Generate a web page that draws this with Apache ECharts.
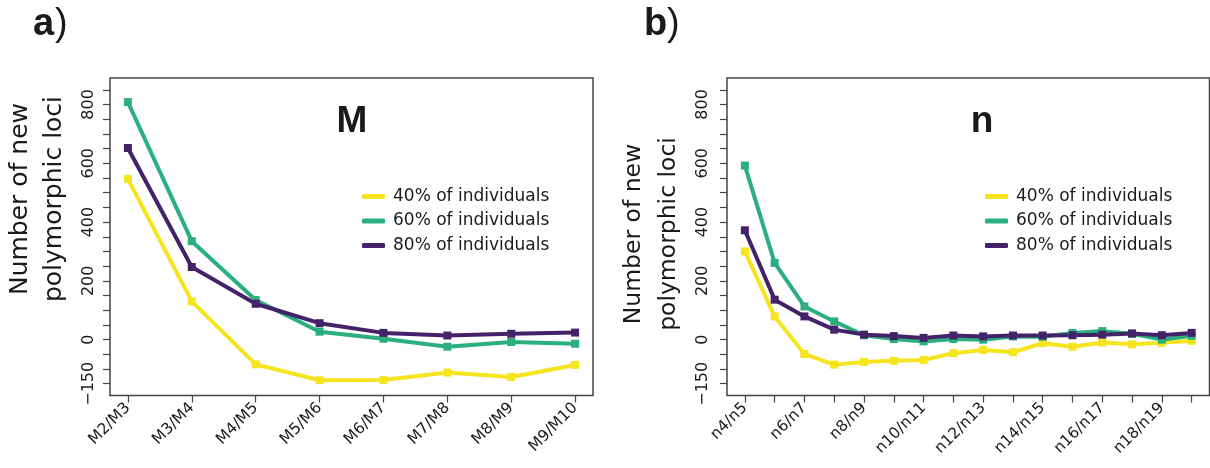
<!DOCTYPE html>
<html>
<head>
<meta charset="utf-8">
<script src="https://cdn.jsdelivr.net/npm/echarts@6/dist/echarts.min.js"></script>
<style>
html,body{margin:0;padding:0;background:#fff;}
#chart{width:1210px;height:468px;}
</style>
</head>
<body>
<div id="chart"></div>
<script>
// ---- data ----
const seriesNames = ['40% of individuals', '60% of individuals', '80% of individuals'];
const catsA = ['M2/M3', 'M3/M4', 'M4/M5', 'M5/M6', 'M6/M7', 'M7/M8', 'M8/M9', 'M9/M10'];
const yellowA = [547, 130, -84, -138, -137, -112, -127, -86];
const greenA  = [808, 335, 135, 27, 3, -24, -8, -14];
const purpleA = [652, 247, 122, 56, 23, 14, 20, 24];

const catsB = ['n4/n5', 'n5/n6', 'n6/n7', 'n7/n8', 'n8/n9', 'n9/n10', 'n10/n11', 'n11/n12',
               'n12/n13', 'n13/n14', 'n14/n15', 'n15/n16', 'n16/n17', 'n17/n18', 'n18/n19', 'n19/n20'];
const yellowB = [300, 79, -49, -85, -76, -72, -69, -46, -35, -43, -12, -24, -10, -16, -11, -4];
const greenB  = [592, 261, 113, 62, 15, 2, -6, 2, 0, 11, 10, 23, 29, 20, 0, 13];
const purpleB = [372, 136, 79, 34, 17, 12, 6, 14, 11, 14, 14, 15, 17, 21, 15, 23];

const yTickValues = [-150, -100, -50, 0, 50, 100, 150, 200, 250, 300, 350, 400, 450, 500, 550, 600, 650, 700, 750, 800, 850];
const yLabelValues = [-150, 0, 200, 400, 600, 800];
const panelTitles = ['M', 'n'];
const panelTags = ['a', 'b'];
const yTitle = 'Number of new\npolymorphic loci';

// ---- styling ----
const colors = ['#F5E41E', '#2BAF7F', '#44226A'];
const axisColor = '#444';
const textColor = '#1a1a1a';
const FONT = 'DejaVu Sans';

function pairs(vals) { return vals.map((v, i) => [i, v]); }
function fmtY(v) { return v < 0 ? '\u2212' + Math.abs(v) : String(v); }

function xAxisFor(grid, cats, min, max, labelEvery) {
  const ticks = cats.map((c, i) => i);
  const labels = ticks.filter(i => i % labelEvery === 0);
  return {
    gridIndex: grid, type: 'value', min: min, max: max, position: 'bottom',
    splitLine: { show: false }, axisLine: { show: false, onZero: false },
    axisTick: { show: true, customValues: ticks, length: 7, lineStyle: { color: axisColor, width: 1.2 } },
    axisLabel: { show: true, customValues: labels, rotate: 45, margin: 10, fontFamily: FONT, fontSize: 15.5,
      color: textColor, formatter: v => cats[Math.round(v)] || '' }
  };
}
function yAxisFor(grid, margin) {
  return {
    gridIndex: grid, type: 'value', min: -190, max: 890, position: 'left',
    splitLine: { show: false }, axisLine: { show: false, onZero: false },
    axisTick: { show: true, customValues: yTickValues, length: 7, lineStyle: { color: axisColor, width: 1.2 } },
    axisLabel: { show: true, customValues: yLabelValues, rotate: 90, margin: margin, fontFamily: FONT, fontSize: 16,
      color: textColor, formatter: fmtY }
  };
}
function lineSeries(name, vals, idx, color) {
  return {
    name: name, type: 'line', xAxisIndex: idx, yAxisIndex: idx, data: pairs(vals),
    symbol: 'rect', symbolSize: 8, showSymbol: true, clip: false,
    lineStyle: { color: color, width: 4, cap: 'round', join: 'round' },
    itemStyle: { color: color }, emphasis: { disabled: true }, z: 2
  };
}
function legendFor(left) {
  return {
    orient: 'vertical', left: left, top: 183, itemGap: 7.5, itemWidth: 23, itemHeight: 5,
    icon: 'roundRect', selectedMode: false, data: seriesNames,
    textStyle: { fontFamily: FONT, fontSize: 17, color: textColor, padding: [0, 0, 0, 3] }
  };
}
function textG(x, y, text, font, opts) {
  return Object.assign({ type: 'text', x: x, y: y, silent: true,
    style: Object.assign({ text: text, font: font, fill: textColor, align: 'left', verticalAlign: 'middle' }, opts || {}) });
}
function gridFor(left, right) {
  return { left: left, right: right, top: 78, bottom: 72.5, show: true, borderColor: axisColor, borderWidth: 1.5,
    backgroundColor: 'transparent', containLabel: false, outerBoundsMode: 'none' };
}

const option = {
  animation: false,
  backgroundColor: '#ffffff',
  grid: [gridFor(110, 617), gridFor(727, 0.5)],
  xAxis: [xAxisFor(0, catsA, -0.28, 7.28, 1), xAxisFor(1, catsB, -0.6, 15.6, 2)],
  yAxis: [yAxisFor(0, 13), yAxisFor(1, 16)],
  legend: [legendFor(357), legendFor(980)],
  series: [
    lineSeries(seriesNames[0], yellowA, 0, colors[0]),
    lineSeries(seriesNames[1], greenA, 0, colors[1]),
    lineSeries(seriesNames[2], purpleA, 0, colors[2]),
    lineSeries(seriesNames[0], yellowB, 1, colors[0]),
    lineSeries(seriesNames[1], greenB, 1, colors[1]),
    lineSeries(seriesNames[2], purpleB, 1, colors[2])
  ],
  graphic: [
    textG(33, 25, panelTags[0], 'bold 38px "Liberation Sans"'),
    textG(55, 25, ')', '38px "Liberation Sans"'),
    textG(644, 25, panelTags[1], 'bold 38px "Liberation Sans"'),
    textG(667, 25, ')', '38px "Liberation Sans"'),
    textG(352, 122, panelTitles[0], 'bold 37px "Liberation Sans"', { align: 'center' }),
    textG(982, 122, panelTitles[1], 'bold 37px "Liberation Sans"', { align: 'center' }),
    Object.assign(textG(37.6, 199, yTitle, '25px "DejaVu Sans"', { align: 'center', lineHeight: 34 }), { rotation: Math.PI / 2 }),
    Object.assign(textG(651, 234, yTitle, '23.5px "DejaVu Sans"', { align: 'center', lineHeight: 35 }), { rotation: Math.PI / 2 })
  ]
};

const chart = echarts.init(document.getElementById('chart'), null, { renderer: 'canvas' });
chart.setOption(option);
</script>
</body>
</html>
